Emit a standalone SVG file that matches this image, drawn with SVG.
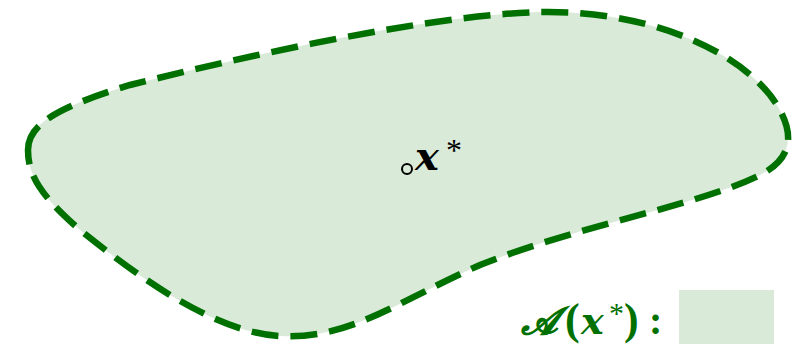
<svg xmlns="http://www.w3.org/2000/svg" width="794" height="344" viewBox="0 0 794 344">
<style>
.region{fill:#d9ead9;stroke:#007000;stroke-width:6.5;stroke-dasharray:27 12}
.math{font-family:"DejaVu Serif","Liberation Serif",serif;font-weight:bold;font-style:italic}
.up{font-family:"Liberation Serif","DejaVu Serif",serif;font-weight:bold}
.star{font-family:"Liberation Serif","DejaVu Serif",serif}
</style>
<rect width="794" height="344" fill="#ffffff"/>
<g id="region">
<path class="region" d="M 28 150 C 28 125, 55 108, 130 85 C 250 55, 430 15, 540 12 C 640 10, 730 45, 770 95 C 800 135, 790 160, 760 175 C 700 205, 580 225, 480 265 C 400 300, 350 340, 280 336 C 210 332, 130 270, 80 230 C 40 195, 28 175, 28 150 Z"/>
</g>
<g id="point">
<circle cx="407" cy="169" r="5" fill="none" stroke="#000" stroke-width="2"/>
<text class="math" x="415" y="170" font-size="40" fill="#000">x</text>
<text class="star" x="446" y="161" font-size="32" fill="#000">*</text>
</g>
<g id="legend" fill="#007000">
<text class="math" x="521" y="334" font-size="38">𝓐</text>
<text class="up" x="565" y="334" font-size="44">(</text>
<text class="math" x="581" y="334" font-size="38">x</text>
<text class="star" x="609" y="323" font-size="30">*</text>
<text class="up" x="624" y="334" font-size="44">)</text>
<text class="up" x="649" y="334" font-size="40">:</text>
<rect x="679" y="290" width="95" height="54" fill="#d9ead9"/>
</g>
</svg>
